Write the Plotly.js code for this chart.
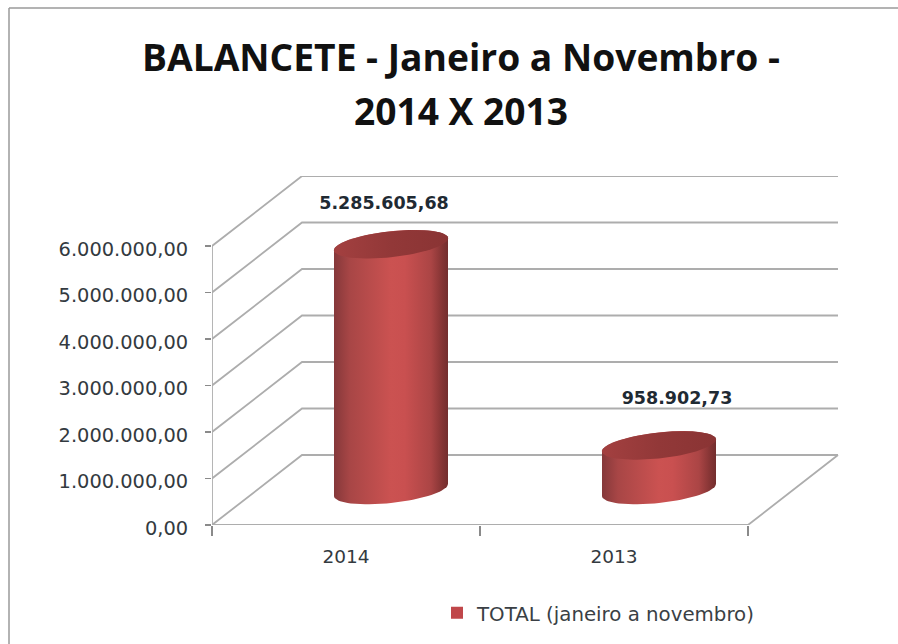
<!DOCTYPE html>
<html><head><meta charset="utf-8">
<script src="https://cdn.plot.ly/plotly-3.0.1.min.js"></script>
<style>html,body{margin:0;padding:0;background:#fff}#c{width:898px;height:644px}</style>
</head><body><div id="c"></div>
<script>
// Data
var categories = ['2014', '2013'];
var values = [5285605.68, 958902.73];
var valueLabels = ['5.285.605,68', '958.902,73'];
var yTicks = [0, 1000000, 2000000, 3000000, 4000000, 5000000, 6000000];
var yTickLabels = ['0,00', '1.000.000,00', '2.000.000,00', '3.000.000,00', '4.000.000,00', '5.000.000,00', '6.000.000,00'];
var seriesName = 'TOTAL (janeiro a novembro)';

// Pixel scale of the pseudo-3D box, turned into data units
var W = 898, H = 644, L = 212, R = 840, T = 176, B = 525;
var pxX = 268, pxY = 46.5e-6;              // px per category, px per value unit
var U = function (p) { return p / pxX; }, V = function (p) { return p / pxY; };
var dX = U(90), dY = V(70);                // depth offset of the back wall
var rA = U(57), rB = V(13), rK = V(6);     // cylinder ellipse radii and tilt
var labelDx = [-7, 18], labelDy = [40, 46];
var grid = '#adadad';
var labelFont = 'DejaVu Sans';

var traces = [];
function line(xs, ys, color, width) {
  traces.push({type: 'scatter', mode: 'lines', x: xs, y: ys, hoverinfo: 'skip', showlegend: false,
    line: {color: color || grid, width: width || 1.8}});
}
// walls
yTicks.forEach(function (v) {
  line([0, dX, 2 + dX], [v, v + dY, v + dY]);
});
line([0, 0], [0, yTicks[yTicks.length - 1]]);
line([0, 2, 2 + dX], [0, 0, dY]);

// cylinders
function ell(cx, cy, t) {
  return [cx + rA * Math.cos(t), cy + rK * Math.cos(t) - rB * Math.sin(t)];
}
var bodyScale = [[0, '#85383a'], [0.14, '#a84646'], [0.5, '#cb5251'], [0.62, '#c95050'], [0.85, '#ab4545'], [0.95, '#843434'], [1, '#732e2e']];
var topScale = [[0, '#a34040'], [0.5, '#923838'], [1, '#8a3434']];
values.forEach(function (val, i) {
  var cx = i + 0.5 + dX / 2, cy0 = dY / 2, cy1 = cy0 + val;
  var bx = [], by = [], tx = [], ty = [], k, p;
  for (k = 0; k <= 40; k++) { p = ell(cx, cy1, Math.PI + Math.PI * k / 40); bx.push(p[0]); by.push(p[1]); }
  for (k = 0; k <= 40; k++) { p = ell(cx, cy0, Math.PI * k / 40); bx.push(p[0]); by.push(p[1]); }
  bx.push(bx[0]); by.push(by[0]);
  for (k = 0; k <= 80; k++) { p = ell(cx, cy1, 2 * Math.PI * k / 80); tx.push(p[0]); ty.push(p[1]); }
  traces.push({type: 'scatter', mode: 'lines', x: bx, y: by, fill: 'toself', hoverinfo: 'skip',
    showlegend: false, line: {width: 0, color: '#b04646'},
    fillgradient: {type: 'horizontal', colorscale: bodyScale}});
  traces.push({type: 'scatter', mode: 'lines', x: tx, y: ty, fill: 'toself', hoverinfo: 'skip',
    showlegend: false, line: {width: 0, color: '#8f3737'},
    fillgradient: {type: 'horizontal', colorscale: topScale}});
});
// data labels
traces.push({type: 'scatter', mode: 'text', hoverinfo: 'skip', showlegend: false,
  x: values.map(function (v, i) { return i + 0.5 + dX / 2 + U(labelDx[i]); }),
  y: values.map(function (v, i) { return v + dY / 2 + V(labelDy[i]); }),
  text: valueLabels, textposition: 'middle center',
  textfont: {family: labelFont, size: 17.5, color: '#1f2a33', weight: 700}});
// legend entry
traces.push({type: 'scatter', mode: 'markers', x: [null], y: [null], name: seriesName,
  marker: {symbol: 'square', size: 14, color: '#c0474a'}});

var layout = {
  width: W, height: H, paper_bgcolor: '#fff', plot_bgcolor: 'rgba(0,0,0,0)',
  margin: {l: L, r: W - R, t: T, b: H - B, pad: 0},
  font: {family: labelFont, color: '#222'},
  title: {
    text: '<span style="font-size:37.2px">BALANCETE - Janeiro a Novembro -</span><br><span style="font-size:37.2px">2014 X 2013</span>',
    font: {family: 'Open Sans', size: 41.5, weight: 700, color: '#111'},
    x: 461 / W, xanchor: 'center', y: 0.889, yanchor: 'bottom'
  },
  xaxis: {
    range: [0, (R - L) / pxX], showgrid: false, zeroline: false, showline: false, fixedrange: true,
    tickmode: 'array', tickvals: [0.5, 1.5], ticktext: categories, ticks: '', ticklen: 0,
    tickfont: {family: labelFont, size: 18.5, color: '#333a40'}, ticklabelstandoff: 18,
    minor: {tickmode: 'array', tickvals: [0, 1, 2], ticks: 'outside', ticklen: 10, tickwidth: 1.4, tickcolor: '#8a8a8a', showgrid: false}
  },
  yaxis: {
    range: [0, (B - T) / pxY], showgrid: false, zeroline: false, showline: false, fixedrange: true,
    tickmode: 'array', tickvals: yTicks, ticktext: yTickLabels, ticks: 'outside', ticklen: 6,
    tickwidth: 1.4, tickcolor: '#8a8a8a', ticklabelstandoff: 13, ticklabelshift: 3,
    tickfont: {family: labelFont, size: 19.4, color: '#333a40'}
  },
  legend: {x: (437 - L) / (R - L), xanchor: 'left', y: (B - 613) / (B - T), yanchor: 'middle', bgcolor: 'rgba(0,0,0,0)',
    font: {family: labelFont, size: 19.8, color: '#3a3f45'}, itemsizing: 'constant', itemwidth: 30},
  shapes: [
    {type: 'line', xref: 'paper', yref: 'paper', x0: (9 - L) / (R - L), x1: (898 - L) / (R - L), y0: (B - 8) / (B - T), y1: (B - 8) / (B - T), line: {color: '#9a9a9a', width: 1.5}},
    {type: 'line', xref: 'paper', yref: 'paper', x0: (9 - L) / (R - L), x1: (9 - L) / (R - L), y0: (B - 8) / (B - T), y1: (B - 644) / (B - T), line: {color: '#9a9a9a', width: 1.5}}
  ]
};
Plotly.newPlot('c', traces, layout, {displayModeBar: false, staticPlot: true});
</script></body></html>
